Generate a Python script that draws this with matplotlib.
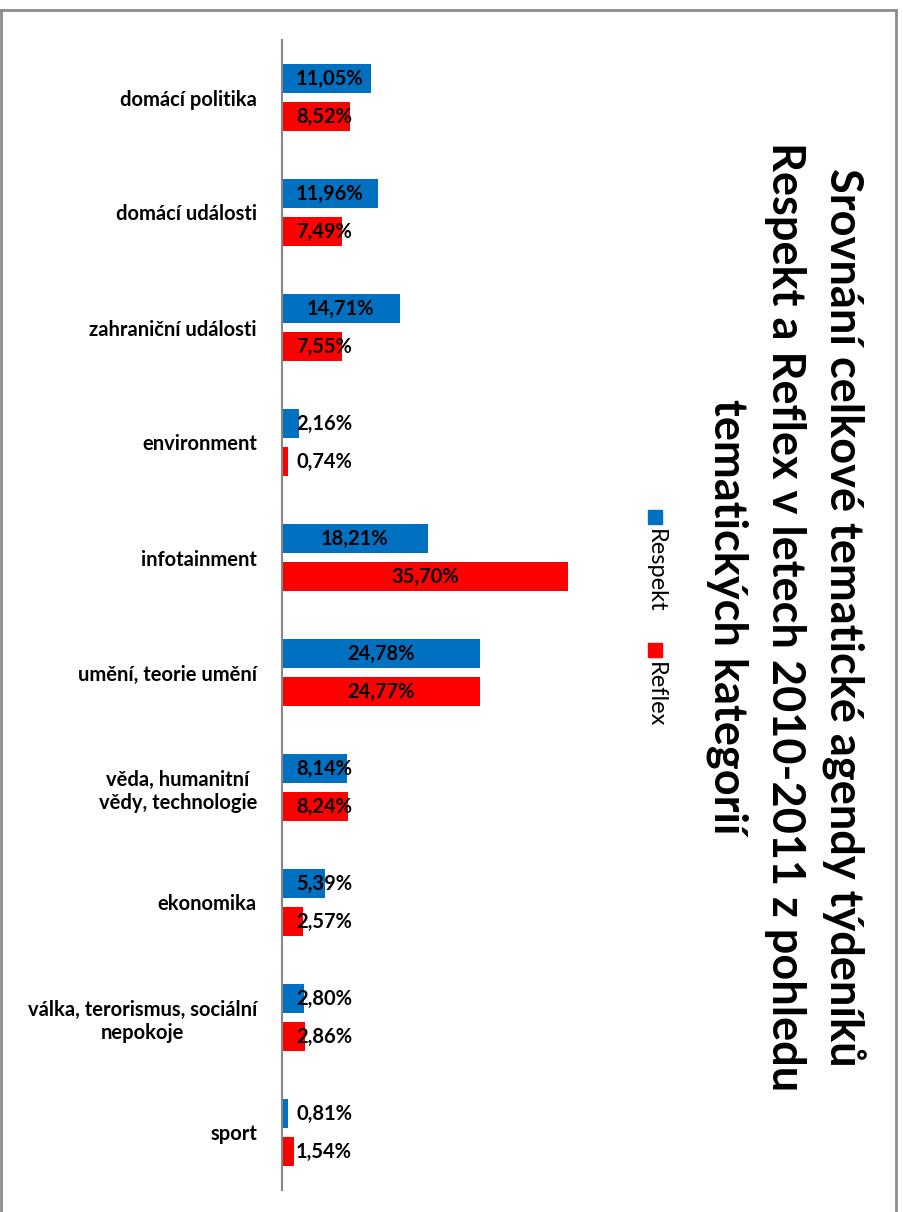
import matplotlib
matplotlib.use('Agg')
import matplotlib.pyplot as plt
from matplotlib.patches import Rectangle
from matplotlib.lines import Line2D
import numpy as np

plt.rcParams['font.family'] = ['Lato', 'DejaVu Sans']

categories = ['domácí politika', 'domácí události', 'zahraniční události',
              'environment', 'infotainment', 'umění, teorie umění',
              'věda, humanitní\nvědy, technologie', 'ekonomika',
              'válka, terorismus, sociální\nnepokoje', 'sport']
respekt = [11.05, 11.96, 14.71, 2.16, 18.21, 24.78, 8.14, 5.39, 2.80, 0.81]
reflex = [8.52, 7.49, 7.55, 0.74, 35.70, 24.77, 8.24, 2.57, 2.86, 1.54]
title_lines = ['Srovnání celkové tematické agendy týdeníků',
               'Respekt a Reflex v letech 2010-2011 z pohledu',
               'tematických kategorií']
series_names = ['Respekt', 'Reflex']
colors = ['#0070C0', '#FF0000']

W, H = 904, 1212
fig = plt.figure(figsize=(W/100, H/100), dpi=100)
ax = fig.add_axes([282/W, 22/H, 400/W, 1150/H])

y = np.arange(len(categories))
bh = 0.26
off = 0.165
ax.barh(y - off, respekt, height=bh, color=colors[0])
ax.barh(y + off, reflex, height=bh, color=colors[1])

ax.set_ylim(len(categories) - 0.5, -0.5)
ax.set_xlim(0, 400/8.01)

for vals, dy in ((respekt, -off), (reflex, off)):
    for i, v in enumerate(vals):
        s = '{:.2f}%'.format(v).replace('.', ',')
        if v < 12:
            ax.text(1.75, i + dy, s, ha='left', va='center',
                    fontsize=14.5, fontweight='bold')
        else:
            ax.text(v/2, i + dy, s, ha='center', va='center',
                    fontsize=14.5, fontweight='bold')

ax.set_yticks(y)
ax.set_yticklabels(categories, fontsize=14.5, fontweight='bold', multialignment='center')
ax.tick_params(axis='y', length=0, pad=18)
ax.set_xticks([])
for sp in ['top', 'right', 'bottom']:
    ax.spines[sp].set_visible(False)
ax.spines['left'].set_color('#868686')
ax.spines['left'].set_linewidth(1.5)

# title, rotated
xs = [843, 785, 727]
for xp, line in zip(xs, title_lines):
    fig.text(xp/W, 1 - 617/H, line, rotation=270, ha='center', va='center',
             fontsize=32.5, fontweight='bold')

# legend, rotated
leg_y = [517, 650]
for yy, name, c in zip(leg_y, series_names, colors):
    fig.patches.append(Rectangle(((655 - 7)/W, 1 - (yy + 7)/H), 14/W, 14/H,
                                 transform=fig.transFigure, color=c))
    fig.text(655/W, 1 - (yy + 12)/H, name, rotation=270, ha='center', va='top',
             fontsize=17)

# border
bc = '#8c8c8c'
fig.add_artist(Line2D([1/W, 896/W], [1 - 10/H, 1 - 10/H], color=bc, lw=2, transform=fig.transFigure))
fig.add_artist(Line2D([1/W, 1/W], [0, 1 - 10/H], color=bc, lw=2, transform=fig.transFigure))
fig.add_artist(Line2D([896/W, 896/W], [0, 1 - 10/H], color=bc, lw=2, transform=fig.transFigure))

fig.savefig('out.png', dpi=100)
